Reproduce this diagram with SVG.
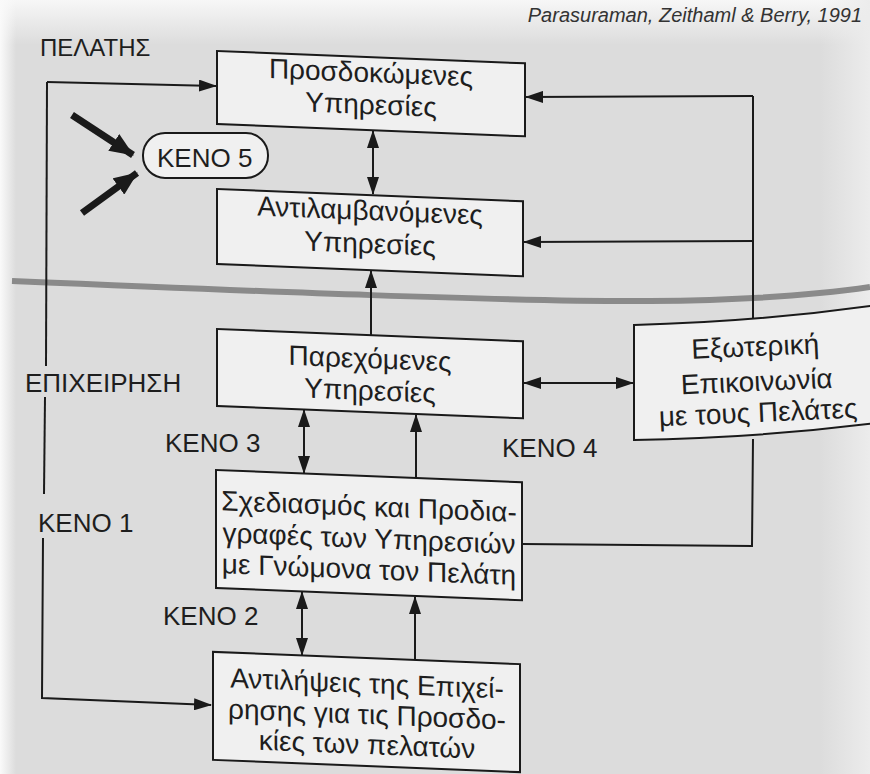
<svg xmlns="http://www.w3.org/2000/svg" width="870" height="774" viewBox="0 0 870 774">
  <defs>
    <linearGradient id="gTop" x1="0" y1="0" x2="0" y2="1">
      <stop offset="0" stop-color="#f7f7f7"/>
      <stop offset="1" stop-color="#f7f7f7" stop-opacity="0"/>
    </linearGradient>
    <linearGradient id="gLeft" x1="0" y1="0" x2="1" y2="0">
      <stop offset="0" stop-color="#fafafa"/>
      <stop offset="1" stop-color="#fafafa" stop-opacity="0"/>
    </linearGradient>
    <linearGradient id="gRight" x1="0" y1="0" x2="1" y2="0">
      <stop offset="0" stop-color="#ececec" stop-opacity="0"/>
      <stop offset="1" stop-color="#ececec"/>
    </linearGradient>
    <marker id="ah" viewBox="0 0 18 12" markerWidth="18" markerHeight="12" refX="17" refY="6" orient="auto-start-reverse" markerUnits="userSpaceOnUse">
      <path d="M0,0 L18,6 L0,12 Z" fill="#1a1a1a"/>
    </marker>
    <marker id="big" viewBox="0 0 24 20" markerWidth="24" markerHeight="20" refX="23" refY="10" orient="auto" markerUnits="userSpaceOnUse">
      <path d="M0,0 L24,10 L0,20 Z" fill="#1a1a1a"/>
    </marker>
    <style>
      .bx { fill: #f0f0f0; stroke: #1a1a1a; stroke-width: 2; }
      .t { font-family: "Liberation Sans", Arial, sans-serif; font-size: 28px; fill: #1e1e1e; text-anchor: middle; }
      .lb { font-family: "Liberation Sans", Arial, sans-serif; font-size: 26px; fill: #1e1e1e; }
      .ln { fill: none; stroke: #1a1a1a; stroke-width: 2; }
      .ar { fill: none; stroke: #1a1a1a; stroke-width: 2; marker-end: url(#ah); }
      .da { fill: none; stroke: #1a1a1a; stroke-width: 2; marker-start: url(#ah); marker-end: url(#ah); }
      .th { fill: none; stroke: #1a1a1a; stroke-width: 7; marker-end: url(#big); }
    </style>
  </defs>

  <!-- scanned page background -->
  <rect x="0" y="0" width="870" height="774" fill="#dcdcdc"/>
  <rect x="0" y="0" width="870" height="45" fill="url(#gTop)"/>
  <rect x="0" y="0" width="16" height="774" fill="url(#gLeft)"/>
  <rect x="820" y="0" width="50" height="774" fill="url(#gRight)"/>

  <!-- source line -->
  <text x="862" y="22" class="lb" style="font-style:italic;font-size:20px;fill:#333" text-anchor="end">Parasuraman, Zeithaml &amp; Berry, 1991</text>

  <!-- customer / company separator -->
  <path d="M12,281 C250,291 520,302 650,301 C760,300 830,293 870,287" fill="none" stroke="#8a8a8a" stroke-width="6"/>

  <!-- section labels -->
  <g id="labels">
    <text x="40" y="56" class="lb" style="font-size:24px">ΠΕΛΑΤΗΣ</text>
    <text x="25" y="392" class="lb">ΕΠΙΧΕΙΡΗΣΗ</text>
    <text x="38" y="532" class="lb">ΚΕΝΟ 1</text>
    <text x="163" y="625" class="lb">ΚΕΝΟ 2</text>
    <text x="165" y="452" class="lb">ΚΕΝΟ 3</text>
    <text x="502" y="457" class="lb">ΚΕΝΟ 4</text>
  </g>

  <!-- connectors -->
  <g id="connectors">
    <path class="ar" d="M47,82 L216,86"/>
    <path class="ln" d="M47,82 L46,366"/>
    <path class="ln" d="M45,397 L44,494"/>
    <path class="ln" d="M43,538 L42,698 L211,705" style="marker-end:url(#ah)"/>
    <path class="da" d="M373,131 L373,194"/>
    <path class="ar" d="M371,335 L371,271"/>
    <path class="da" d="M304,410 L304,473"/>
    <path class="ar" d="M416,478 L416,415"/>
    <path class="da" d="M302,592 L302,655"/>
    <path class="ar" d="M415,660 L415,597"/>
    <path class="ln" d="M753,96 L753,322"/>
    <path class="ar" d="M753,96 L526,97"/>
    <path class="ar" d="M753,241 L524,242"/>
    <path class="ln" d="M753,439 L752,546 L523,544"/>
    <path class="da" d="M524,383 L633,383"/>
    <line class="th" x1="72" y1="115" x2="133" y2="155"/>
    <line class="th" x1="82" y1="213" x2="137" y2="173"/>
  </g>

  <g id="keno5">
    <rect x="143" y="133" width="125" height="45" rx="22" ry="22" class="bx"/>
    <text x="157" y="167" class="lb">ΚΕΝΟ 5</text>
  </g>

  <!-- middle column nodes (scan skew) -->
  <g transform="matrix(1,0.04,0,1,0,-8.68)">
    <g id="expected">
      <rect x="217" y="51" width="308" height="73" class="bx"/>
      <text x="371" y="76" class="t">Προσδοκώμενες</text>
      <text x="371" y="108" class="t">Υπηρεσίες</text>
    </g>
    <g id="perceived">
      <rect x="217" y="189" width="306" height="75" class="bx"/>
      <text x="370" y="214" class="t">Αντιλαμβανόμενες</text>
      <text x="370" y="247" class="t">Υπηρεσίες</text>
    </g>
    <g id="delivered">
      <rect x="217" y="329" width="306" height="77" class="bx"/>
      <text x="370" y="362" class="t">Παρεχόμενες</text>
      <text x="370" y="394" class="t">Υπηρεσίες</text>
    </g>
    <g id="design">
      <rect x="216" y="470" width="306" height="118" class="bx"/>
      <text x="369" y="510" class="t">Σχεδιασμός και Προδια-</text>
      <text x="369" y="542" class="t">γραφές των Υπηρεσιών</text>
      <text x="369" y="573" class="t">με Γνώμονα τον Πελάτη</text>
    </g>
    <g id="perceptions">
      <rect x="213" y="652" width="307" height="108" class="bx"/>
      <text x="367" y="687" class="t">Αντιλήψεις της Επιχεί-</text>
      <text x="367" y="718" class="t">ρησης για τις Προσδο-</text>
      <text x="367" y="748" class="t">κίες των πελατών</text>
    </g>
  </g>

  <g id="external">
    <path d="M634,325 Q760,322 884,304 L884,422 Q760,438 634,440 Z" class="bx"/>
    <g transform="rotate(-2.5 757 388)">
      <text x="757" y="356" class="t">Εξωτερική</text>
      <text x="757" y="391" class="t">Επικοινωνία</text>
      <text x="757" y="422" class="t">με τους Πελάτες</text>
    </g>
  </g>
</svg>
